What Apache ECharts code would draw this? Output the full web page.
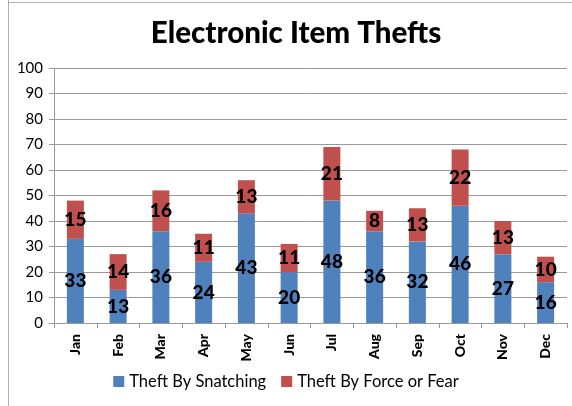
<!DOCTYPE html>
<html><head><meta charset="utf-8">
<script src="https://cdn.jsdelivr.net/npm/echarts@6/dist/echarts.min.js"></script>
<style>html,body{margin:0;padding:0;background:#fff}#c{width:572px;height:406px}</style>
</head><body><div id="c"></div>
<script>
const months = ['Jan','Feb','Mar','Apr','May','Jun','Jul','Aug','Sep','Oct','Nov','Dec'];
const snatching = [33,13,36,24,43,20,48,36,32,46,27,16];
const forceFear = [15,14,16,11,13,11,21,8,13,22,13,10];
const seriesNames = ['Theft By Snatching','Theft By Force or Fear'];
const FONT = 'Lato, "Open Sans", sans-serif';
const chart = echarts.init(document.getElementById('c'), null, {renderer:'canvas'});
const lbl = {show:true, position:'inside', color:'#000', fontWeight:900, fontSize:19, fontFamily:FONT};
chart.setOption({
  animation:false,
  title:{text:'Electronic Item Thefts', left:291, textAlign:'center', top:13,
    textStyle:{fontFamily:FONT, fontWeight:900, fontSize:29.5, color:'#000'}},
  graphic:[
    {type:'line', shape:{x1:8.5,y1:0,x2:8.5,y2:406}, style:{stroke:'#b0b0b0', lineWidth:1}},
    {type:'line', shape:{x1:8,y1:2.5,x2:572,y2:2.5}, style:{stroke:'#b0b0b0', lineWidth:1}}
  ],
  grid:{left:54, right:5, top:68, bottom:83},
  legend:{bottom:11, left:'center', itemWidth:11, itemHeight:11, itemGap:15, icon:'rect',
    textStyle:{fontFamily:FONT, fontSize:16.5, color:'#000'}},
  xAxis:{type:'category', data:months,
    axisLine:{lineStyle:{color:'#999'}},
    axisTick:{show:true, length:5, lineStyle:{color:'#999'}},
    axisLabel:{rotate:90, fontFamily:FONT, fontWeight:900, fontSize:14, color:'#000', margin:11}},
  yAxis:{type:'value', min:0, max:100, interval:10,
    axisLine:{show:true, lineStyle:{color:'#999'}},
    axisTick:{show:true, length:5, lineStyle:{color:'#999'}},
    splitLine:{lineStyle:{color:'#999'}},
    axisLabel:{fontFamily:FONT, fontSize:15, color:'#000', margin:11}},
  series:[
    {name:seriesNames[0], type:'bar', stack:'a', data:snatching, barWidth:17, itemStyle:{color:'#4F81BD'}, label:lbl},
    {name:seriesNames[1], type:'bar', stack:'a', data:forceFear, barWidth:17, itemStyle:{color:'#C0504D'}, label:lbl}
  ]
});
</script></body></html>
